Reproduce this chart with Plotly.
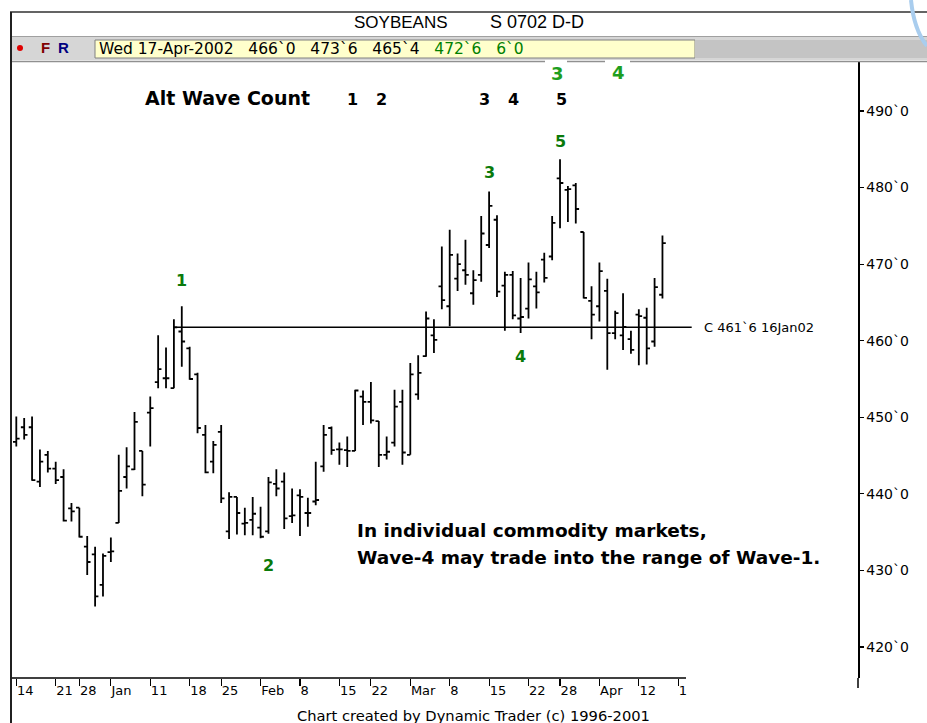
import plotly.graph_objects as go

W, H = 927, 723

# ---------------- data (trading-day index 0 = 14-Dec-2001 ... 82 = 17-Apr-2002)
opens = [446.8, 448.7, 448.7, 441.6, 445.1, 443.3, 442.2, 438.1, 438.2, 433.1,
         432.1, 428.1, 432.4, 436.2, 442.2, 443.2, 445.6, 450.6, 454.6, 455.1,
         453.8, 461.2, 459.0, 455.6, 447.7, 444.2, 448.1, 435.1, 439.6, 436.1,
         436.6, 435.6, 435.1, 441.3, 441.6, 437.1, 439.8, 437.5, 439.0, 443.6,
         448.6, 445.8, 445.7, 445.6, 452.7, 452.0, 449.5, 445.1, 446.7, 452.0,
         445.1, 453.0, 458.0, 460.7, 467.1, 464.5, 468.1, 469.2, 466.2, 468.6,
         472.5, 475.8, 467.2, 468.6, 462.9, 464.2, 467.1, 470.6, 471.0, 481.2,
         479.7, 480.3, 474.2, 465.2, 464.5, 466.5, 461.0, 460.7, 460.2, 463.4,
         463.0, 459.9, 466.0]
highs = [450.1, 449.9, 450.1, 445.8, 445.6, 444.2, 443.2, 438.8, 438.2, 434.5,
         433.1, 432.2, 434.3, 445.1, 446.1, 450.7, 445.6, 452.7, 460.7, 459.1,
         462.8, 464.5, 459.2, 455.8, 449.0, 446.9, 449.0, 440.2, 439.6, 438.2,
         439.6, 438.3, 442.2, 443.2, 442.8, 440.7, 440.6, 439.5, 444.2, 449.0,
         448.8, 446.7, 447.5, 453.6, 453.5, 454.6, 449.5, 447.5, 453.6, 453.6,
         457.1, 458.1, 463.8, 462.8, 472.3, 474.5, 471.4, 473.2, 469.2, 476.3,
         479.5, 476.4, 469.0, 469.1, 468.2, 470.2, 469.0, 471.5, 476.3, 483.7,
         480.2, 480.6, 474.2, 467.1, 470.2, 468.1, 463.9, 466.2, 461.3, 464.1,
         464.3, 468.2, 473.75]
lows = [446.2, 447.1, 441.7, 440.9, 442.8, 441.3, 436.4, 436.4, 434.3, 429.4,
        425.3, 426.6, 431.1, 436.2, 440.7, 443.1, 439.7, 446.2, 453.8, 453.8,
        453.8, 456.6, 454.9, 447.9, 442.7, 442.7, 438.8, 434.1, 434.7, 434.6,
        434.6, 434.2, 434.8, 439.7, 435.4, 436.2, 434.5, 435.7, 438.5, 442.9,
        445.1, 443.8, 443.5, 445.6, 449.0, 449.2, 443.5, 444.5, 446.2, 443.8,
        445.1, 452.3, 457.9, 458.4, 464.1, 461.9, 466.5, 467.3, 464.7, 467.7,
        472.1, 465.7, 461.3, 462.8, 461.0, 462.9, 464.2, 467.6, 470.5, 474.7,
        475.5, 475.3, 465.5, 460.2, 462.5, 456.2, 460.2, 458.8, 458.3, 456.8,
        456.9, 459.2, 465.5]
closes = [447.2, 447.7, 441.8, 444.2, 443.3, 441.8, 436.5, 437.7, 434.4, 431.1,
          426.6, 431.9, 432.5, 440.4, 443.6, 449.4, 441.2, 451.2, 456.3, 455.1,
          461.75, 459.9, 455.0, 448.6, 442.8, 446.4, 439.4, 439.6, 437.5, 436.2,
          437.4, 434.4, 441.5, 440.7, 436.8, 437.2, 439.6, 437.5, 439.2, 447.7,
          445.7, 445.8, 445.6, 453.5, 452.0, 449.6, 445.1, 445.5, 451.4, 445.4,
          455.6, 455.8, 462.9, 460.1, 465.3, 471.2, 470.0, 468.6, 467.9, 474.0,
          477.6, 466.4, 468.6, 463.3, 463.1, 468.0, 466.3, 468.2, 475.4, 480.6,
          479.8, 477.2, 465.6, 463.4, 469.1, 461.0, 463.6, 461.8, 458.8, 463.2,
          459.0, 467.0, 472.75]
bar_idx = list(range(len(opens)))

xtick_vals = [0, 5, 8, 12, 17, 22, 26, 31, 36, 41, 45, 50, 55, 60, 65, 69, 74, 79, 84]
xtick_text = ["14", "21", "28", "Jan", "11", "18", "25", "Feb", "8", "15", "22",
              "Mar", "8", "15", "22", "28", "Apr", "12", "1"]
ytick_vals = [420, 430, 440, 450, 460, 470, 480, 490]
ytick_text = [f"{v}`0" for v in ytick_vals]

ref_bar = 20
ref_close = 461.75
ref_label = "C 461`6 16Jan02"

wave_text = ["1", "2", "3", "4", "5"]
wave_bar = [21, 32, 60, 64, 69]
wave_price = [467.8, 430.7, 482.0, 458.0, 486.0]

# ---------------- geometry helpers (pixel -> paper)
def px(x):
    return x / W

def py(y):
    return 1 - y / H

BAR0, STEP = 16.3, 7.88
PL, PR, PT, PB = 12, 858, 62, 678
x_lo = (PL - BAR0) / STEP
x_hi = (PR - BAR0) / STEP
x_axis_end = (686 - BAR0) / STEP
y_lo, y_hi = 415.95, 496.4

fig = go.Figure()
fig.add_trace(go.Ohlc(
    x=bar_idx, open=opens, high=highs, low=lows, close=closes,
    increasing=dict(line=dict(color="black", width=1.8)),
    decreasing=dict(line=dict(color="black", width=1.8)),
    tickwidth=0.42, hoverinfo="skip", showlegend=False,
))

FONT = "DejaVu Sans"
shapes = []
# window frame
shapes.append(dict(type="rect", xref="paper", yref="paper", x0=px(12), x1=px(927),
                   y0=py(60), y1=py(37), fillcolor="#d6d6d6", line=dict(width=0), layer="below"))
shapes.append(dict(type="rect", xref="paper", yref="paper", x0=px(95), x1=px(695),
                   y0=py(58), y1=py(40), fillcolor="#ffffcc",
                   line=dict(color="#808080", width=1), layer="below"))
shapes.append(dict(type="rect", xref="paper", yref="paper", x0=px(695), x1=px(927),
                   y0=py(58), y1=py(40), fillcolor="#c4c4c4", line=dict(width=0), layer="below"))
shapes.append(dict(type="line", xref="paper", yref="paper", x0=px(10), x1=px(927),
                   y0=py(12), y1=py(12), line=dict(color="#303030", width=1.5)))
shapes.append(dict(type="line", xref="paper", yref="paper", x0=px(11), x1=px(11),
                   y0=py(12), y1=py(723), line=dict(color="#202020", width=2)))
shapes.append(dict(type="line", xref="paper", yref="paper", x0=px(12), x1=px(927),
                   y0=py(36.5), y1=py(36.5), line=dict(color="#a0a0a0", width=1)))
# top border of the chart (broken by the two green labels)
for a, b in [(12, 545), (567, 605), (630, 927)]:
    shapes.append(dict(type="line", xref="paper", yref="paper", x0=px(a), x1=px(b),
                       y0=py(61.5), y1=py(61.5), line=dict(color="#909090", width=1.5)))
# price axis extension below the date axis
shapes.append(dict(type="line", xref="paper", yref="paper", x0=px(858), x1=px(858),
                   y0=py(PB), y1=py(688), line=dict(color="black", width=1.5)))
# date axis line
shapes.append(dict(type="line", xref="x", yref="paper", x0=x_lo, x1=x_axis_end,
                   y0=py(PB), y1=py(PB), line=dict(color="black", width=1.5)))
# reference close line
shapes.append(dict(type="line", xref="x", yref="y", x0=ref_bar, x1=(691.7 - BAR0) / STEP,
                   y0=ref_close, y1=ref_close, line=dict(color="black", width=1.5)))
# light blue arc in the corner
shapes.append(dict(type="path", xref="paper", yref="paper",
                   path=f"M {px(911)},{py(0)} Q {px(914)},{py(30)} {px(927)},{py(46)}",
                   line=dict(color="#a9cdee", width=4)))
# red dot
shapes.append(dict(type="circle", xref="paper", yref="paper", x0=px(17), x1=px(23),
                   y0=py(51), y1=py(45), fillcolor="#e00000", line=dict(width=0)))

ann = []
def add(text, x, y, size, color="black", bold=False, xanchor="center", family=FONT,
        xref="paper", yref="paper", yanchor="middle"):
    ann.append(dict(text=f"<b>{text}</b>" if bold else text, x=x, y=y, xref=xref, yref=yref,
                    xanchor=xanchor, yanchor=yanchor, showarrow=False,
                    font=dict(family=family, size=size, color=color)))

add("SOYBEANS", px(401), py(22), 17, family="Liberation Sans")
add("S 0702 D-D", px(537), py(22), 18, family="Liberation Sans")
add("F", px(45), py(48), 15, color="#800000", bold=True, family="Liberation Sans")
add("R", px(63), py(48), 15, color="#000080", bold=True, family="Liberation Sans")
nb = "\u00a0\u00a0\u00a0"
info = ("Wed 17-Apr-2002" + nb + "466`0" + nb + "473`6" + nb + "465`4" + nb +
        "<span style='color:#008000'>472`6" + nb + "6`0</span>")
add(info, px(97), py(49), 15.5, xanchor="left")

add("Alt Wave Count", px(143), py(98), 19, bold=True, xanchor="left")
for t, xx in zip(["1", "2", "3", "4", "5"], [352, 381, 484, 513, 561]):
    add(t, px(xx), py(100), 16, bold=True)
add("3", px(557), py(74), 18, color="#1e9e1e", bold=True)
add("4", px(618), py(73), 18, color="#1e9e1e", bold=True)

for t, b, p in zip(wave_text, wave_bar, wave_price):
    add(t, b, p, 16, color="#0a7a0a", bold=True, xref="x", yref="y")

add(ref_label, px(702), ref_close, 13, xanchor="left", yref="y")

add("In individual commodity markets,", px(355), py(530), 18.5, bold=True, xanchor="left")
add("Wave-4 may trade into the range of Wave-1.", px(355), py(557), 18.5, bold=True, xanchor="left")

add("Chart created by Dynamic Trader (c) 1996-2001", px(473), py(715), 14.7)

fig.update_layout(
    width=W, height=H, margin=dict(l=0, r=0, t=0, b=0),
    paper_bgcolor="white", plot_bgcolor="white", showlegend=False,
    shapes=shapes, annotations=ann,
    xaxis=dict(domain=[px(PL), px(PR)], range=[x_lo, x_hi], showgrid=False, zeroline=False,
               showline=False, ticks="outside", ticklen=7, tickwidth=1.2, tickcolor="black",
               tickvals=xtick_vals, ticktext=xtick_text, ticklabelposition="outside right",
               tickangle=0,
               tickfont=dict(family=FONT, size=13, color="black"),
               rangeslider=dict(visible=False), fixedrange=True),
    yaxis=dict(domain=[1 - PB / H, 1 - PT / H], range=[y_lo, y_hi], side="right",
               anchor="free", position=px(PR), showline=True, linecolor="black", linewidth=1.5,
               ticks="outside", ticklen=4, tickwidth=1.2, tickcolor="black",
               tickvals=ytick_vals, ticktext=ytick_text, showgrid=False, zeroline=False,
               tickfont=dict(family=FONT, size=14, color="black"), fixedrange=True),
)

fig.write_html("out.html", config={"staticPlot": True},
               post_script="document.body.style.margin='0px';document.body.style.padding='0px';"
                           "document.body.style.overflow='hidden';")
